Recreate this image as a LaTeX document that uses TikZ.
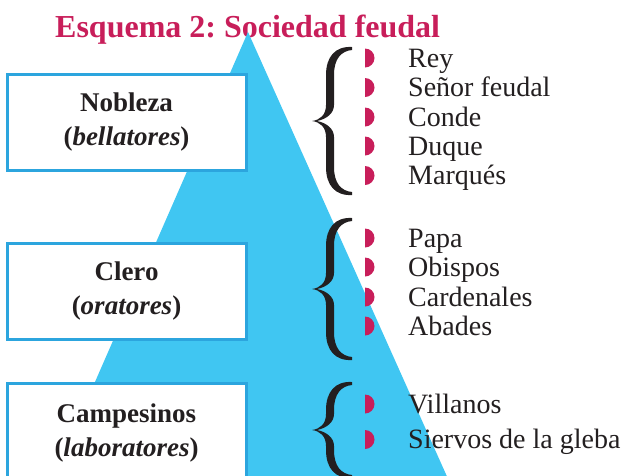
\documentclass[tikz,border=0pt]{standalone}
\usepackage{fontspec}
\setmainfont{Liberation Serif}
\usetikzlibrary{positioning}
\frenchspacing

\definecolor{celeste}{RGB}{64,198,242}
\definecolor{azulborde}{RGB}{44,165,222}
\definecolor{carmin}{RGB}{200,30,90}
\definecolor{tinta}{RGB}{35,31,32}

\tikzset{
  caja/.style={draw=azulborde,line width=3,fill=white,minimum width=239,
    minimum height=96,align=center,text=tinta,
    font=\fontsize{27}{34}\selectfont\bfseries},
  item/.style={anchor=base west,inner sep=0,text=tinta,
    font=\fontsize{28}{30}\selectfont},
  titulo/.style={anchor=base west,inner sep=0,text=carmin,
    font=\fontsize{32}{36}\selectfont\bfseries}
}

% llave caligrafica: #1 = punta, #2 = media altura
\newcommand{\llave}[2]{%
  \fill[tinta,shift={#1}] (40,-#2) .. controls (23,-#2-1) and (14,-#2+10) .. (14,-#2+28)
    -- (14,-16) .. controls (14,-6) and (8,-1) .. (0,0)
    .. controls (8,1) and (14,6) .. (14,16)
    -- (14,#2-28) .. controls (14,#2-10) and (23,#2+1) .. (40,#2)
    -- (40,#2-3) .. controls (29,#2-4) and (22,#2-12) .. (22,#2-28)
    -- (22,16) .. controls (22,8) and (15,2) .. (5,0)
    .. controls (15,-2) and (22,-8) .. (22,-16)
    -- (22,-#2+28) .. controls (22,-#2+12) and (29,-#2+4) .. (40,-#2+3)
    -- cycle;}
\newcommand{\punto}[1]{\fill[carmin] (365,#1-9.5) arc(-90:90:9.5) -- cycle;}

\begin{document}
\begin{tikzpicture}[x=1pt,y=-1pt]
\useasboundingbox (0,0) rectangle (627,475);
\clip (0,0) rectangle (627,475);

\node[titulo] (titulo) at (55,37) {Esquema 2: Sociedad feudal};

\fill[celeste] (248,32) -- (39,510) -- (462,510) -- cycle;

\node[caja] (nobleza) at (126.5,122) {Nobleza\\(\textit{bellatores})};
\node[caja] (clero) at (126.5,291) {Clero\\(\textit{oratores})};
\node[caja,minimum height=100] (campesinos) at (126.5,433) {Campesinos\\(\textit{laboratores})};

\llave{(312,121)}{74}
\llave{(312,289)}{71}
\llave{(312,430)}{48}

\punto{58}   \node[item] (rey) at (408,67) {Rey};
\punto{87.5} \node[item] (senor) at (408,96.5) {Señor feudal};
\punto{117}  \node[item] (conde) at (408,126) {Conde};
\punto{146}  \node[item] (duque) at (408,155) {Duque};
\punto{175.5}\node[item] (marques) at (408,184.5) {Marqués};

\punto{238}  \node[item] (papa) at (408,247) {Papa};
\punto{267}  \node[item] (obispos) at (408,276) {Obispos};
\punto{297}  \node[item] (cardenales) at (408,306) {Cardenales};
\punto{326}  \node[item] (abades) at (408,335) {Abades};

\punto{404}  \node[item] (villanos) at (408,413) {Villanos};
\punto{439.5}\node[item] (siervos) at (408,448.5) {Siervos de la gleba};

\end{tikzpicture}
\end{document}
